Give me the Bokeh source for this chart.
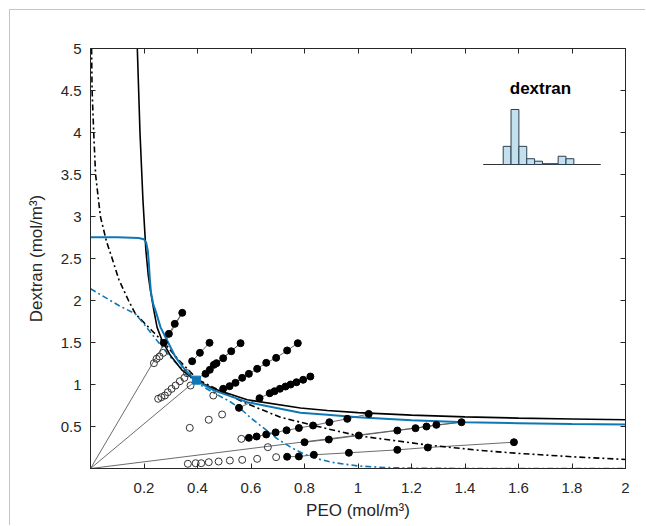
from bokeh.plotting import figure
from bokeh.models import LinearAxis, Range1d, FixedTicker, CustomJSTickFormatter
from bokeh.embed import file_html
from bokeh.resources import INLINE
from bokeh.core.properties import value

FONT = "Liberation Sans"

# ---------------- data ----------------
# black solid curve
bs_x = [0.175, 0.185, 0.196, 0.207, 0.216, 0.224, 0.237, 0.249, 0.268, 0.299, 0.343, 0.393,
        0.461, 0.586, 0.785, 0.885, 1.0, 1.2, 1.4, 1.6, 1.8, 2.0]
bs_y = [5.0, 4.0, 3.2, 2.6, 2.3, 2.12, 1.88, 1.68, 1.52, 1.345, 1.167, 1.05,
        0.949, 0.818, 0.72, 0.69, 0.665, 0.635, 0.615, 0.6, 0.59, 0.58]
# blue solid curve
us_x = [0.0, 0.1, 0.18, 0.2, 0.208, 0.214, 0.218, 0.222, 0.226, 0.235, 0.243, 0.262, 0.287,
        0.318, 0.355, 0.393, 0.461, 0.586, 0.785, 0.885, 1.0, 1.2, 1.4, 1.6, 1.8, 2.0]
us_y = [2.754, 2.752, 2.745, 2.73, 2.69, 2.6, 2.45, 2.25, 2.1, 1.95, 1.88, 1.68, 1.52,
        1.325, 1.167, 1.048, 0.93, 0.79, 0.663, 0.639, 0.61, 0.575, 0.55, 0.54, 0.53, 0.524]
# black dash-dot curve
bd_x = [0.004, 0.006, 0.012, 0.019, 0.037, 0.06, 0.081, 0.106, 0.142, 0.168, 0.23, 0.28, 0.33,
        0.367, 0.4, 0.5, 0.586, 0.71, 0.785, 0.885, 1.0, 1.26, 1.46, 1.6, 1.8, 2.0]
bd_y = [5.0, 4.5, 4.0, 3.5, 3.0, 2.7, 2.5, 2.25, 2.0, 1.84, 1.64, 1.48, 1.29,
        1.17, 1.06, 0.9, 0.77, 0.61, 0.551, 0.473, 0.39, 0.28, 0.214, 0.18, 0.14, 0.107]
# blue dash-dot curve
ud_x = [0.0, 0.106, 0.168, 0.2, 0.249, 0.299, 0.355, 0.393, 0.461, 0.52, 0.561, 0.6, 0.648,
        0.7, 0.75, 0.8, 0.85, 0.9, 1.0, 1.1, 1.2, 1.4, 2.0]
ud_y = [2.14, 1.94, 1.84, 1.72, 1.52, 1.325, 1.146, 1.027, 0.9, 0.8, 0.711, 0.6, 0.48,
        0.35, 0.25, 0.17, 0.115, 0.075, 0.03, 0.012, 0.004, 0.0, 0.0]

# tie lines drawn from the origin (end points)
ray_x = [0.343, 0.561, 1.387]
ray_y = [1.853, 1.492, 0.551]

# filled points (one phase), grouped by feed ratio
filled_rows = [
    ([0.274, 0.293, 0.315, 0.343], [1.496, 1.603, 1.722, 1.853]),
    ([0.380, 0.409, 0.445], [1.277, 1.377, 1.496]),
    ([0.430, 0.446, 0.461, 0.471, 0.496, 0.526, 0.561],
     [1.127, 1.175, 1.234, 1.254, 1.313, 1.396, 1.492]),
    ([0.496, 0.520, 0.542, 0.567, 0.592, 0.623, 0.657, 0.694, 0.735, 0.775],
     [0.949, 0.980, 1.020, 1.079, 1.127, 1.187, 1.258, 1.317, 1.405, 1.492]),
    ([0.555, 0.632, 0.670, 0.688, 0.708, 0.729, 0.748, 0.770, 0.795, 0.822],
     [0.722, 0.837, 0.896, 0.920, 0.949, 0.976, 1.0, 1.027, 1.056, 1.095]),
    ([0.592, 0.621, 0.657, 0.692, 0.733, 0.779, 0.832, 0.893, 0.960, 1.040],
     [0.365, 0.381, 0.405, 0.430, 0.455, 0.482, 0.512, 0.551, 0.591, 0.650]),
    ([0.800, 0.891, 1.003, 1.147, 1.215, 1.256, 1.293, 1.387],
     [0.313, 0.345, 0.393, 0.452, 0.480, 0.500, 0.520, 0.551]),
    ([0.735, 0.779, 0.835, 0.966, 1.147, 1.261, 1.583],
     [0.140, 0.143, 0.163, 0.187, 0.222, 0.250, 0.313]),
]
# open points (other phase)
open_x = [0.237, 0.247, 0.258, 0.272,
          0.253, 0.265, 0.278, 0.289, 0.303, 0.318, 0.334, 0.351, 0.361,
          0.374, 0.459, 0.371, 0.442, 0.492, 0.564, 0.663,
          0.364, 0.393, 0.414, 0.442, 0.479, 0.521, 0.567, 0.623, 0.694]
open_y = [1.254, 1.306, 1.333, 1.377,
          0.830, 0.849, 0.869, 0.908, 0.948, 0.988, 1.039, 1.079, 1.135,
          0.988, 0.869, 0.484, 0.580, 0.643, 0.353, 0.254,
          0.056, 0.063, 0.063, 0.075, 0.083, 0.095, 0.103, 0.115, 0.135]
# critical point
crit_x = [0.396]
crit_y = [1.052]

# inset histogram (dextran size distribution), relative heights per bin
hist_edges = [0, 1, 2, 3, 4, 5, 6, 7, 8, 9]
hist_vals = [0.33, 1.0, 0.33, 0.105, 0.06, 0.015, 0.015, 0.15, 0.105]

x_ticks = [0.2, 0.4, 0.6, 0.8, 1.0, 1.2, 1.4, 1.6, 1.8, 2.0]
x_tick_labels = ["0.2", "0.4", "0.6", "0.8", "1", "1.2", "1.4", "1.6", "1.8", "2"]
y_ticks = [0.5, 1.0, 1.5, 2.0, 2.5, 3.0, 3.5, 4.0, 4.5, 5.0]
y_tick_labels = ["0.5", "1", "1.5", "2", "2.5", "3", "3.5", "4", "4.5", "5"]

# ---------------- figure ----------------
AX = "#262626"
BLUE = "#0f77b6"

p = figure(width=636, height=516, x_range=Range1d(0, 2), y_range=Range1d(0, 5),
           output_backend="svg", toolbar_location=None,
           min_border_left=80, min_border_right=21, min_border_top=38, min_border_bottom=58)
p.grid.visible = False
p.outline_line_color = AX
p.outline_line_width = 1
p.background_fill_color = "white"
p.border_fill_color = "white"
p.stylesheets = [":host { margin-left: 9px; margin-top: 9px; "
                 "border-left: 1px solid #c4c4c4; border-top: 1px solid #c4c4c4; }"]

def style_axis(ax, ticks, labels=None):
    ax.ticker = FixedTicker(ticks=ticks)
    ax.minor_tick_line_color = None
    ax.major_tick_in = 5
    ax.major_tick_out = 0
    ax.axis_line_color = AX
    ax.major_tick_line_color = AX
    ax.major_label_text_color = AX
    ax.major_label_text_font = FONT
    ax.major_label_text_font_size = "15px"
    ax.axis_label_text_font = FONT
    ax.axis_label_text_font_size = "17px"
    ax.axis_label_text_font_style = "normal"
    ax.axis_label_text_color = AX
    if labels is None:
        ax.formatter = CustomJSTickFormatter(code="return ''")
    else:
        ax.major_label_overrides = dict(zip(ticks, labels))

xa = p.xaxis[0]
style_axis(xa, x_ticks, x_tick_labels)
xa.axis_label = "PEO (mol/m³)"
xa.major_label_standoff = 14
xa.axis_label_standoff = 5

ya = p.yaxis[0]
style_axis(ya, y_ticks, y_tick_labels)
ya.axis_label = "Dextran (mol/m³)"
ya.major_label_standoff = 9
ya.axis_label_standoff = 12

top = LinearAxis()
style_axis(top, x_ticks)
top.major_label_standoff = 0
p.add_layout(top, "above")
right = LinearAxis()
style_axis(right, y_ticks)
right.major_label_standoff = 0
p.add_layout(right, "right")

# tie lines from origin
p.segment(x0=[0] * len(ray_x), y0=[0] * len(ray_y), x1=ray_x, y1=ray_y,
          line_color="#5a5a5a", line_width=0.9)
for rx, ry in filled_rows:
    p.line(rx, ry, line_color="#5a5a5a", line_width=0.9)

# curves
p.line(bd_x, bd_y, line_color="black", line_width=1.6, line_dash="6 3 2 3")
p.line(ud_x, ud_y, line_color=BLUE, line_width=1.6, line_dash="6 3 2 3")
p.line(bs_x, bs_y, line_color="black", line_width=1.6)
p.line(us_x, us_y, line_color=BLUE, line_width=2.0)

# points
p.scatter(open_x, open_y, marker="circle", size=7, fill_color=None,
          line_color="#333333", line_width=1)
for rx, ry in filled_rows:
    p.scatter(rx, ry, marker="circle", size=7, fill_color="black", line_color="black")
p.scatter(crit_x, crit_y, marker="square", size=8, fill_color=BLUE, line_color=BLUE)

# inset histogram on its own ranges
p.extra_x_ranges = {"hx": Range1d(-52.57, 15.58)}
p.extra_y_ranges = {"hy": Range1d(-5.527, 2.109)}
p.segment(x0=[-2.55], y0=[0], x1=[12.43], y1=[0], x_range_name="hx", y_range_name="hy",
          line_color="#333333", line_width=1)
p.quad(left=hist_edges[:-1], right=hist_edges[1:], bottom=[0] * len(hist_vals), top=hist_vals,
       x_range_name="hx", y_range_name="hy",
       fill_color="#c3e0ef", line_color="#2f3e4e", line_width=1)
p.text(x=[4.75], y=[1.38], text=["dextran"], x_range_name="hx", y_range_name="hy",
       text_font=value(FONT), text_font_style="bold", text_font_size="17px",
       text_align="center", text_baseline="middle", text_color="black")

open("out.html", "w").write(file_html(p, INLINE))
